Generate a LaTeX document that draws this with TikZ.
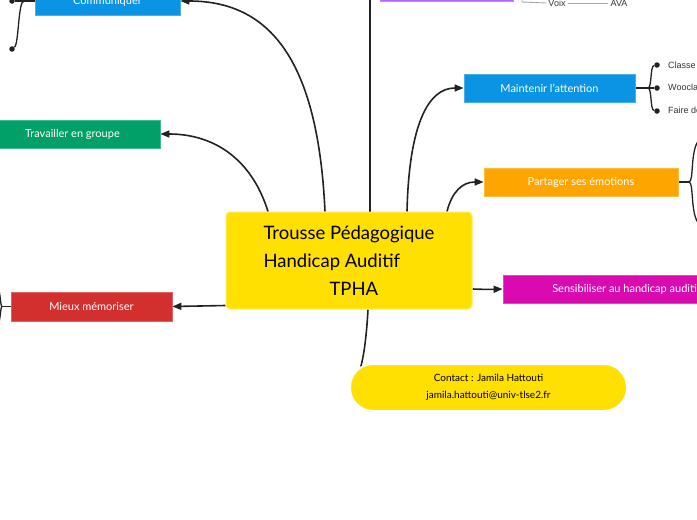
\documentclass[tikz,border=0pt]{standalone}
\usepackage{fontspec}
\setmainfont{Lato}
\newfontfamily\smallfont{Liberation Sans}
\usetikzlibrary{arrows.meta,shadows}
\definecolor{cyellow}{HTML}{FFE000}
\definecolor{cblue}{HTML}{0A94E3}
\definecolor{cgreen}{HTML}{00A068}
\definecolor{cred}{HTML}{D32F2F}
\definecolor{corange}{HTML}{FFA500}
\definecolor{cmagenta}{HTML}{D90AB0}
\definecolor{cpurple}{HTML}{B266FF}
\definecolor{linec}{HTML}{222222}
\definecolor{greyline}{HTML}{A8A8A8}
\definecolor{labelc}{HTML}{333333}
\pgfdeclarelayer{bg}
\pgfsetlayers{bg,main}
\tikzset{
  topic/.style={rectangle, minimum height=28pt, inner sep=0pt, text=white,
    fill=#1, draw=#1!75!white, line width=0.8pt,
    font=\fontsize{11}{13}\selectfont},
  central/.style={rectangle, rounded corners=4pt, fill=cyellow, draw=cyellow!60!white,
    line width=1pt, minimum width=246pt, minimum height=97pt, inner sep=0pt,
    align=left, font=\fontsize{18.5}{28}\selectfont},
  pill/.style={rectangle, rounded corners=23pt, fill=cyellow, draw=white, line width=2pt,
    minimum width=277pt, minimum height=47pt, align=center, inner sep=0pt,
    font=\fontsize{10}{17}\selectfont,
    drop shadow={opacity=0.12, shadow xshift=0pt, shadow yshift=-1pt}},
  conn/.style={draw=linec, line width=1.6pt, -{Triangle[length=9pt,width=7pt]}},
  forkline/.style={draw=linec, line width=1.3pt},
  dotn/.style={circle, fill=linec, inner sep=0pt, minimum size=5.5pt},
  leaf/.style={text=labelc, font=\smallfont\fontsize{9}{11}\selectfont, inner sep=2pt, anchor=west},
  thin/.style={draw=greyline, line width=0.9pt}
}
\begin{document}
\begin{tikzpicture}[x=1pt,y=-1pt]
\useasboundingbox (0,0) rectangle (697,520);

% nodes
\node[central] (c) at (349,260.5) {Trousse Pédagogique\\Handicap Auditif\\\hspace*{66pt}TPHA};
\node[topic=cblue, minimum width=145pt] (comm) at (107.5,1) {Communiquer};
\node[topic=cgreen, minimum width=175pt] (trav) at (72.5,134) {Travailler en groupe};
\node[topic=cred, minimum width=161pt, minimum height=29pt] (mie) at (91.5,306.5) {Mieux mémoriser};
\node[topic=cblue, minimum width=171pt] (mai) at (549.5,88) {Maintenir l'attention};
\node[topic=corange, minimum width=194pt] (par) at (581,182) {Partager ses émotions};
\node[topic=cmagenta, minimum width=247pt] (sen) at (626.5,289) {Sensibiliser au handicap auditif};
\node[topic=cpurple, minimum width=133pt] (pur) at (446.5,-13) {};
\node[pill] (contact) at (488.5,387.5) {Contact : Jamila Hattouti\\jamila.hattouti@univ-tlse2.fr};

% leaves at top
\node[leaf, anchor=center] (voix) at (557,3) {Voix};
\node[leaf, anchor=center] (ava) at (619,3) {AVA};
\coordinate (vtop) at (522,-10);

% leaves of Maintenir
\node[dotn] (m1) at (657,65) {};
\node[dotn] (m2) at (657,88) {};
\node[dotn] (m3) at (657,111) {};
\node[leaf] (l1) at (666,65) {Classe inversée};
\node[leaf] (l2) at (666,88) {Wooclap};
\node[leaf] (l3) at (666,111) {Faire des pauses};

% leaves of Communiquer
\node[dotn] (k1) at (12,-46) {};
\node[dotn] (k2) at (12,1) {};
\node[dotn] (k3) at (12,49) {};

\coordinate (vt) at (370,-10);
\coordinate (cf) at (24,1);
\coordinate (mf) at (648,88);
\coordinate (pf) at (689,182);
\coordinate (pu) at (699,140);
\coordinate (pd) at (699,224);
\coordinate (rf) at (2,306.5);
\coordinate (ru) at (-6,278);
\coordinate (rd) at (-6,335);

\begin{pgfonlayer}{bg}
% main connectors
\draw[conn] ([xshift=-24pt]c.north) .. controls (318,60) and (270,1) .. (comm.east);
\draw[conn] ([xshift=-81pt]c.north) .. controls (252,160) and (215,134) .. (trav.east);
\draw[draw=linec, line width=1.8pt] ([xshift=21pt]c.north) -- (vt);
\draw[conn] ([xshift=58pt]c.north) .. controls (409,125) and (428,88) .. (mai.west);
\draw[conn] ([xshift=98pt]c.north) .. controls (452,192) and (462,182) .. (par.west);
\draw[conn] ([yshift=4pt]c.south west) .. controls (200,306) .. (mie.east);
\draw[conn] ([yshift=-28.5pt]c.east) .. controls (488,289.5) .. (sen.west);
\draw[conn] ([xshift=19pt]c.south) .. controls (366,345) and (362,372) .. (contact.west);

% fork of Communiquer
\draw[forkline] (comm.west) -- (cf);
\draw[forkline] (cf) -- (k2);
\draw[forkline] (cf) .. controls (18,1) and (19,44) .. (k3);
\draw[forkline] (cf) .. controls (18,1) and (19,-42) .. (k1);

% fork of Maintenir
\draw[forkline] (mai.east) -- (mf);
\draw[forkline] (mf) -- (m2);
\draw[forkline] (mf) .. controls (652,88) and (650,66) .. (m1);
\draw[forkline] (mf) .. controls (652,88) and (650,110) .. (m3);

% fork of Partager
\draw[forkline] (par.east) -- (pf);
\draw[forkline] (pf) .. controls (694,182) and (690,150) .. (pu);
\draw[forkline] (pf) .. controls (694,182) and (690,214) .. (pd);

% fork of Mieux
\draw[forkline] (mie.west) -- (rf);
\draw[forkline] (rf) .. controls (0,306.5) and (1,286) .. (ru);
\draw[forkline] (rf) .. controls (0,306.5) and (1,327) .. (rd);

% top grey lines
\draw[thin] (vtop) -- (522,2) -- (voix.west);
\draw[thin] (voix.east) -- (ava.west);
\end{pgfonlayer}
\end{tikzpicture}
\end{document}
